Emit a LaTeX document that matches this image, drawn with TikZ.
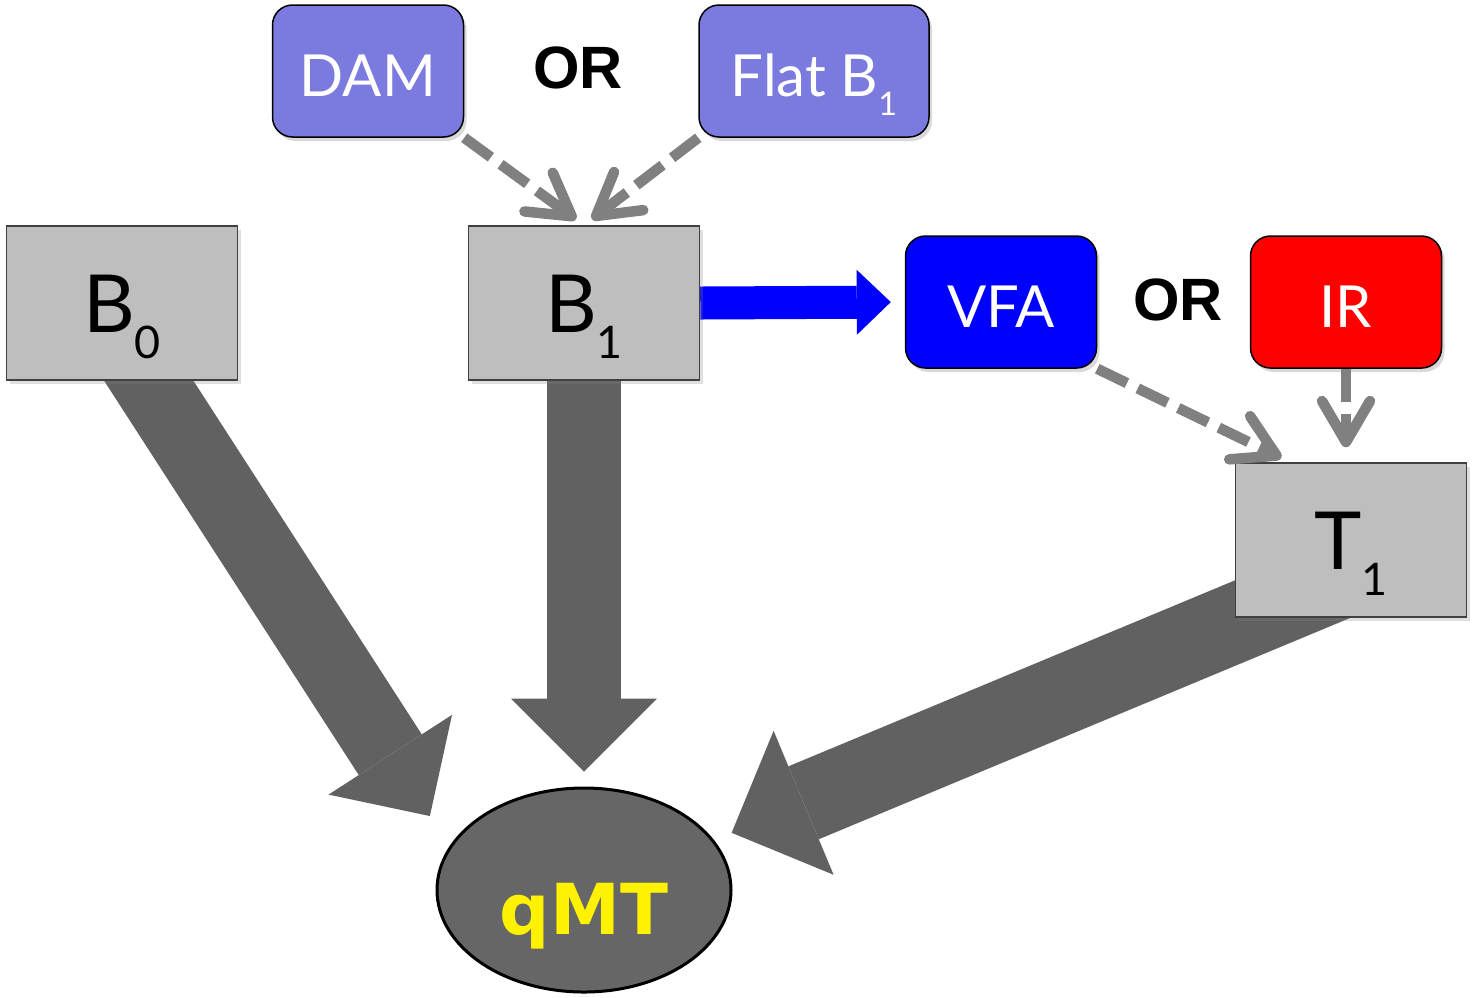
\documentclass[tikz,border=0pt]{standalone}
\usepackage{fontspec}
\usetikzlibrary{shapes.geometric, arrows.meta, positioning, shadows, backgrounds}
\newfontfamily\boxfont{Lato}
\newfontfamily\orfont{Liberation Sans}
\newfontfamily\qmtfont{DejaVu Sans}
\definecolor{dampurple}{HTML}{7B7BDF}
\definecolor{boxgray}{HTML}{BEBEBE}
\definecolor{fatgray}{HTML}{616161}
\definecolor{ovalgray}{HTML}{666666}
\definecolor{dashgray}{HTML}{808080}
\newcommand{\lowidx}[1]{\raisebox{-0.32em}{\scalebox{0.56}{#1}}}

\begin{document}
\begin{tikzpicture}[
        x=0.1mm, y=-0.1mm,
        seqbox/.style={draw=black, line width=0.15mm, rectangle, rounded corners=2mm, minimum width=19.1mm, minimum height=13.2mm, text height=5.1mm, text depth=0mm, text=white, font=\boxfont\fontsize{16.5}{18}\selectfont, drop shadow={shadow xshift=0.3mm, shadow yshift=-0.4mm, opacity=0.3}},
        mapbox/.style={draw=black!75, line width=0.15mm, rectangle, fill=boxgray, minimum width=23.1mm, minimum height=15.4mm, text height=5.9mm, text depth=0mm, font=\boxfont\fontsize{22.8}{26}\selectfont, drop shadow={shadow xshift=0.3mm, shadow yshift=-0.4mm, opacity=0.25}},
        ortext/.style={font=\orfont\bfseries\fontsize{17}{20}\selectfont},
        fatarrow/.style={color=fatgray, line width=#1},
        dasharrow/.style={color=dashgray, line width=1.05mm, dash pattern=on 3.3mm off 1.2mm, -{Straight Barb[length=4.1mm, width=4.8mm, round]}}
    ]
        \useasboundingbox (0,0) rectangle (1474,997);

        % Nodes
        \node[seqbox, fill=dampurple] (dam) at (368,71) {DAM};
        \node[ortext] (or1) at (578,68) {OR};
        \node[seqbox, fill=dampurple, minimum width=23mm] (flat) at (814,71) {Flat B\lowidx{1}};
        \node[mapbox] (b0) at (122,303) {B\lowidx{0}};
        \node[mapbox] (b1) at (584,303) {B\lowidx{1}};
        \node[seqbox, fill=blue] (vfa) at (1001,302) {VFA};
        \node[ortext] (or2) at (1178,300) {OR};
        \node[seqbox, fill=red] (ir) at (1346,302) {IR};
        \node[mapbox] (t1) at (1351,540) {T\lowidx{1}};
        \node[draw=black, line width=0.3mm, ellipse, fill=ovalgray, minimum width=29.4mm, minimum height=20.4mm, inner sep=0pt, text height=10.4mm, text depth=1.5mm, text=yellow, font=\qmtfont\bfseries\fontsize{20}{24}\selectfont] (qmt) at (584,890) {qMT};

        % Arrows
        \begin{scope}[on background layer]
            \draw[fatarrow=7.5mm, -{Triangle[length=7.3mm, width=14.7mm, line width=0pt]}, shorten <=-4mm, shorten >=3.6mm] (b0.-71) -- (qmt.162);
            \draw[fatarrow=7.4mm, -{Triangle[length=7.3mm, width=14.6mm, line width=0pt]}, shorten <=-4mm, shorten >=1.5mm] (b1.south) -- (qmt.north);
            \draw[fatarrow=7.9mm, -{Triangle[length=7.8mm, width=15.6mm, line width=0pt]}, shorten <=-12mm, shorten >=1.9mm] (t1.-143) -- (qmt.21);
            \draw[blue, line width=3.3mm, -{Triangle[length=3.4mm, width=6.5mm, line width=0pt]}, shorten >=1.4mm] (b1.east) -- (vfa.west);
        \end{scope}
        \draw[dasharrow, shorten >=1mm] (dam.south east) -- (b1.north);
        \draw[dasharrow, shorten >=1mm] (flat.south west) -- (b1.north);
        \draw[dasharrow, shorten >=1mm] (vfa.south east) -- (t1.128);
        \draw[dasharrow, shorten >=1.5mm] (ir.south) -- (ir.south |- t1.north);
    \end{tikzpicture}
\end{document}
